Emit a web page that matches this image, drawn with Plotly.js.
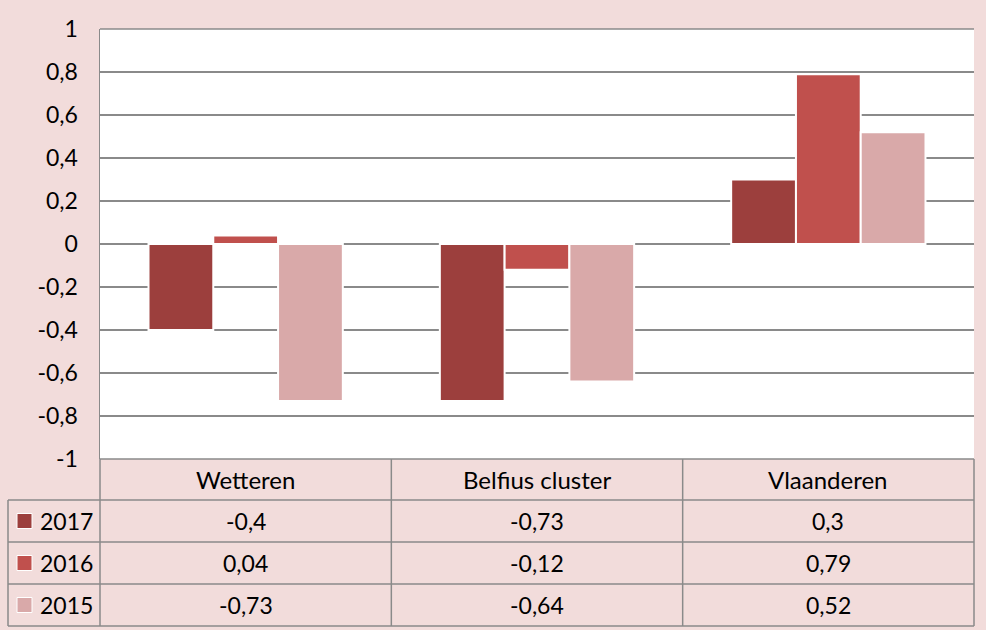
<!DOCTYPE html>
<html>
<head>
<meta charset="utf-8">
<script src="https://cdn.plot.ly/plotly-3.0.1.min.js"></script>
<style>
html,body{margin:0;padding:0;background:#f2dcdb;}
#chart{width:986px;height:630px;}
</style>
</head>
<body>
<div id="chart"></div>
<script>
// ---- data ----
const categories = ["Wetteren", "Belfius cluster", "Vlaanderen"];
const seriesNames = ["2017", "2016", "2015"];
const values2017 = [-0.4, -0.73, 0.3];
const values2016 = [0.04, -0.12, 0.79];
const values2015 = [-0.73, -0.64, 0.52];
const seriesColors = ["#9c3f3d", "#c0504d", "#d9a9a9"];
const tickVals = [-1, -0.8, -0.6, -0.4, -0.2, 0, 0.2, 0.4, 0.6, 0.8, 1];
const tickText = ["-1", "-0,8", "-0,6", "-0,4", "-0,2", "0", "0,2", "0,4", "0,6", "0,8", "1"];

const seriesValues = [values2017, values2016, values2015];

// ---- geometry (pixels) ----
const W = 986, H = 630;
const mL = 100, mR = 12, mT = 29, mB = 171;
const plotH = H - mT - mB;
const plotW = W - mL - mR;
const FONT = "Lato, Carlito, Calibri, sans-serif";
const FS = 23;
const gridCol = "#8a8a8a";

function py(p) { return (H - mB - p) / plotH; }     // pixel y -> paper y
function px(p) { return (p - mL) / plotW; }         // pixel x -> paper x
function fmt(v) { return String(v).replace(".", ","); }

const traces = seriesNames.map((name, i) => ({
  type: "bar",
  name: name,
  x: categories,
  y: seriesValues[i],
  marker: { color: seriesColors[i], line: { color: "#ffffff", width: 2 } },
  hoverinfo: "none"
}));

// table geometry
const headerTop = 459, headerBot = 500;
const rowH = 42;
const rowTops = [500, 542, 584];
const tableBot = 626;
const legendLeft = 8;

const shapes = [];
const lineStyle = { color: gridCol, width: 1.5 };
shapes.push({ type: "line", xref: "paper", yref: "paper", x0: 0, x1: 1, y0: py(headerTop), y1: py(headerTop), line: lineStyle });
[headerBot, rowTops[1], rowTops[2], tableBot].forEach(yy => {
  shapes.push({ type: "line", xref: "paper", yref: "paper", x0: px(legendLeft), x1: 1, y0: py(yy), y1: py(yy), line: lineStyle });
});
shapes.push({ type: "line", xref: "paper", yref: "paper", x0: px(legendLeft), x1: px(legendLeft), y0: py(headerBot), y1: py(tableBot), line: lineStyle });
shapes.push({ type: "line", xref: "paper", yref: "paper", x0: 0, x1: 0, y0: py(headerTop), y1: py(tableBot), line: lineStyle });
shapes.push({ type: "line", xref: "paper", yref: "paper", x0: 1, x1: 1, y0: py(headerTop), y1: py(tableBot), line: lineStyle });
for (let c = 0; c < categories.length - 1; c++) {
  shapes.push({ type: "line", xref: "x", yref: "paper", x0: c + 0.5, x1: c + 0.5, y0: py(headerTop), y1: py(tableBot), line: lineStyle });
}
shapes.push({ type: "line", xref: "paper", yref: "paper", x0: 0, x1: 1, y0: 1, y1: 1, line: lineStyle });

// legend keys
seriesNames.forEach((n, i) => {
  const cy = rowTops[i] + rowH / 2;
  shapes.push({ type: "rect", xref: "paper", yref: "paper",
    x0: px(17), x1: px(32), y0: py(cy - 7.5), y1: py(cy + 7.5),
    fillcolor: seriesColors[i], line: { color: "#ffffff", width: 1 } });
});

const annotations = [];
categories.forEach((c, j) => {
  annotations.push({ xref: "x", yref: "paper", x: j, y: py((headerTop + headerBot) / 2),
    text: c, showarrow: false, xanchor: "center", yanchor: "middle",
    font: { family: FONT, size: FS + 1, color: "#000" } });
});
seriesNames.forEach((n, i) => {
  const cy = rowTops[i] + rowH / 2;
  annotations.push({ xref: "paper", yref: "paper", x: px(38), y: py(cy),
    text: n, showarrow: false, xanchor: "left", yanchor: "middle",
    font: { family: FONT, size: FS, color: "#000" } });
  seriesValues[i].forEach((v, j) => {
    annotations.push({ xref: "x", yref: "paper", x: j, y: py(cy),
      text: fmt(v), showarrow: false, xanchor: "center", yanchor: "middle",
      font: { family: FONT, size: FS, color: "#000" } });
  });
});

const layout = {
  width: W, height: H,
  margin: { l: mL, r: mR, t: mT, b: mB, pad: 0 },
  paper_bgcolor: "#f2dcdb",
  plot_bgcolor: "#ffffff",
  barmode: "group",
  bargap: 0.333,
  bargroupgap: 0,
  showlegend: false,
  font: { family: FONT, size: FS, color: "#000" },
  xaxis: { type: "category", showticklabels: false, showgrid: false, zeroline: false,
    showline: false, ticks: "", range: [-0.5, categories.length - 0.5], fixedrange: true },
  yaxis: { range: [-1, 1], tickvals: tickVals, ticktext: tickText,
    showgrid: true, gridcolor: gridCol, gridwidth: 1.5,
    zeroline: false, showline: true, linecolor: gridCol, linewidth: 1.5,
    ticks: "", ticklabelstandoff: 16,
    tickfont: { family: FONT, size: FS, color: "#000" }, fixedrange: true },
  shapes: shapes,
  annotations: annotations
};

Plotly.newPlot("chart", traces, layout, { displayModeBar: false, staticPlot: true });
</script>
</body>
</html>
